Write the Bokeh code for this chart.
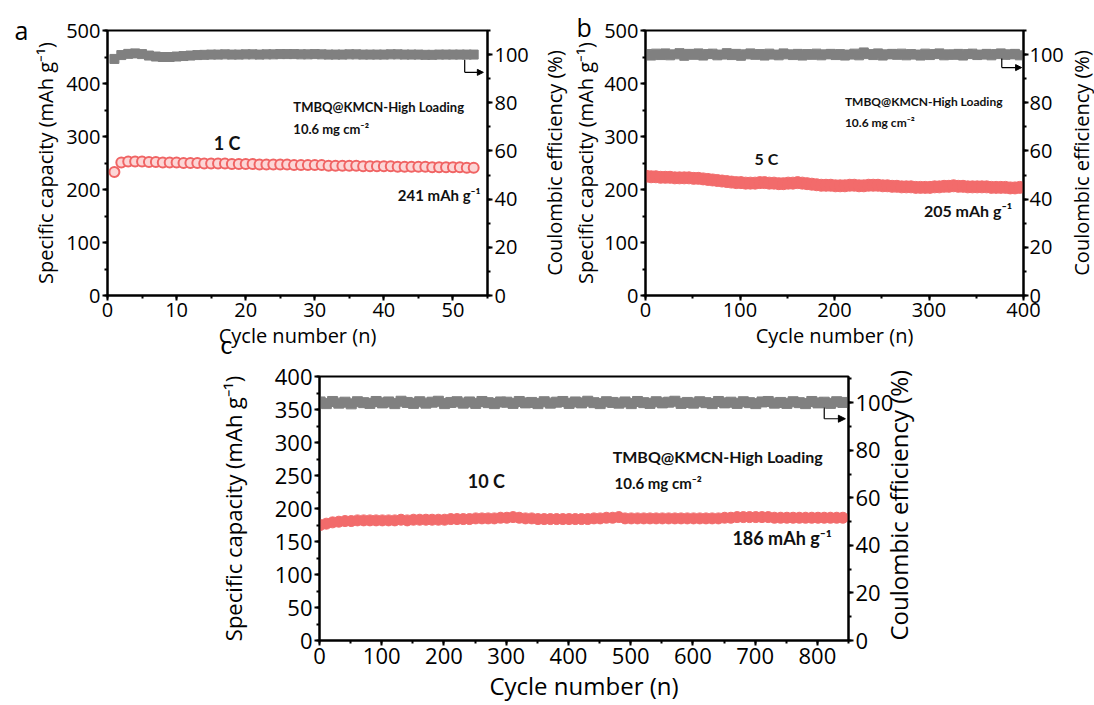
import math
from bokeh.plotting import figure
from bokeh.models import (Range1d, LinearAxis, SingleIntervalTicker, FixedTicker, Label,
                          Arrow, NormalHead, Spacer, Title)
from bokeh.layouts import row, column
from bokeh.embed import file_html
from bokeh.resources import INLINE

# ---------------- data ----------------
# panel a : 1 C
cycles_a = list(range(1, 54))
cap_a = [233, 251, 253, 253, 253, 252, 252, 251, 251, 251,
         250, 250, 250, 249, 249, 249, 249, 248, 248, 248,
         248, 247, 247, 247, 247, 247, 246, 246, 246, 246,
         246, 245, 245, 245, 245, 245, 244, 244, 244, 244,
         244, 243, 243, 243, 243, 243, 242, 242, 242, 242,
         242, 241, 241]
ce_a = [98.2, 99.8, 100.3, 100.5, 100.2, 99.6, 99.2, 99.0, 99.0, 99.2,
        99.4, 99.6, 99.8, 99.9, 100.0, 100.0, 100.1, 100.0, 100.0, 100.1,
        100.1, 100.0, 100.1, 100.1, 100.2, 100.2, 100.2, 100.1, 100.1, 100.2,
        100.1, 100.0, 100.0, 100.0, 100.1, 100.1, 100.0, 100.0, 100.0, 100.0,
        100.1, 100.1, 100.0, 100.0, 100.0, 99.9, 99.9, 100.0, 100.0, 100.0,
        100.0, 100.0, 100.0]

# panel b : 5 C (every 5th cycle)
cycles_b = list(range(1, 401, 5))
cap_b = [225, 224, 224, 223, 223, 223, 222, 222, 222, 222, 221,
         221, 220, 219, 218, 217, 216, 215, 214, 213, 213,
         212, 212, 212, 213, 213, 212, 212, 211, 211, 212,
         212, 213, 212, 211, 210, 209, 208, 208, 208, 207,
         207, 207, 208, 208, 207, 207, 208, 208, 208, 207,
         207, 206, 206, 205, 205, 205, 204, 204, 204, 204,
         205, 205, 206, 206, 207, 206, 206, 205, 205, 205,
         205, 205, 204, 204, 204, 204, 203, 203, 204]
ce_b = [100.2, 99.6, 100.4, 99.8, 100.5, 99.7, 100.1, 100.6, 99.5, 100.3,
        99.9, 100.5, 99.6, 100.2, 100.4, 99.7, 100.0, 100.6, 99.8, 100.3,
        99.5, 100.1, 100.5, 99.9, 100.2, 99.6, 100.4, 100.0, 99.7, 100.5,
        100.1, 99.8, 100.3, 99.6, 100.2, 99.9, 100.4, 99.7, 100.1, 100.3,
        99.8, 100.2, 99.6, 100.0, 100.4, 99.7, 100.9, 100.2, 99.8, 100.5,
        99.6, 100.1, 100.3, 99.9, 100.4, 99.7, 100.2, 100.0, 99.6, 100.4,
        99.8, 100.2, 100.5, 99.7, 100.1, 99.9, 100.3, 99.6, 100.2, 100.4,
        99.8, 100.0, 100.3, 99.7, 100.2, 100.5, 99.9, 100.1, 100.3, 99.7]

# panel c : 10 C (every 10th cycle)
cycles_c = list(range(1, 851, 10))
cap_c = [175, 177, 179, 180, 181, 181, 182, 182, 182, 182,
         182, 182, 182, 183, 182, 183, 183, 183, 183, 183,
         183, 184, 184, 184, 184, 185, 185, 185, 185, 186,
         186, 187, 186, 185, 185, 184, 184, 184, 184, 184,
         184, 184, 184, 184, 185, 185, 186, 186, 187, 185,
         185, 185, 185, 185, 185, 185, 185, 185, 185, 185,
         185, 185, 185, 185, 185, 186, 186, 187, 187, 187,
         187, 187, 187, 186, 186, 186, 186, 186, 186, 186,
         186, 186, 186, 186, 186]
ce_c = [100.3, 99.6, 100.5, 99.8, 100.2, 99.5, 100.4, 100.0, 99.7, 100.5,
        99.9, 100.3, 99.6, 100.6, 100.1, 99.7, 100.4, 99.8, 100.2, 100.6,
        99.6, 100.1, 100.4, 99.8, 100.3, 99.7, 100.5, 100.0, 99.6, 100.3,
        100.2, 99.7, 100.5, 99.9, 100.1, 99.6, 100.4, 99.8, 100.2, 100.5,
        99.7, 100.3, 99.9, 100.6, 100.0, 99.6, 100.4, 100.1, 99.8, 100.3,
        99.6, 100.5, 100.0, 99.7, 100.4, 99.9, 100.2, 100.6, 99.7, 100.1,
        99.8, 100.4, 100.0, 99.6, 100.5, 99.9, 100.2, 99.7, 100.4, 100.0,
        99.6, 100.3, 100.5, 99.8, 100.1, 99.7, 100.4, 100.0, 99.6, 100.5,
        99.9, 100.2, 99.7, 100.4, 100.1]

y_title = "Specific capacity (mAh g\u207b\u00b9)"
ce_title = "Coulombic efficiency (%)"
x_title = "Cycle number (n)"
loading_name = "TMBQ@KMCN-High Loading"

FONT = "Open Sans"
BFONT = "Lato"
GREY = "#808080"
RED = "#f26b6b"
AXPROPS = LinearAxis.properties()


def style_axis(ax, interval, label_size, title_size, title_standoff=4, label_standoff=2):
    ax.ticker = SingleIntervalTicker(interval=interval, num_minor_ticks=2)
    ax.axis_line_width = 2
    ax.axis_line_color = "black"
    ax.major_tick_line_width = 2
    ax.minor_tick_line_width = 2
    ax.major_tick_line_color = "black"
    ax.minor_tick_line_color = "black"
    ax.major_tick_out = 5
    ax.major_tick_in = 0
    ax.minor_tick_out = 3
    ax.minor_tick_in = 0
    ax.major_label_text_font = FONT
    ax.major_label_text_font_size = f"{label_size}px"
    ax.major_label_text_color = "black"
    ax.major_label_standoff = label_standoff
    ax.axis_label_text_font = FONT
    ax.axis_label_text_font_size = f"{title_size}px"
    ax.axis_label_text_font_style = "normal"
    ax.axis_label_text_color = "black"
    ax.axis_label_standoff = title_standoff


def letter_title(text, offset, standoff, valign, font=FONT):
    return Title(text=text, align="left", offset=offset, standoff=standoff,
                 vertical_align=valign, text_font=font, text_font_size="25px",
                 text_font_style="normal", text_color="black")


def make_panel(width, height, borders, xmax, ymax, ce_max, xint, yint,
               tick_size, title_size, ytitle_size, left_standoff,
               right_title=False, right_standoff=2, right_label_standoff=2):
    bl, br, bt, bb = borders
    p = figure(width=width, height=height, output_backend="svg", toolbar_location=None,
               x_range=Range1d(0, xmax), y_range=Range1d(0, ymax),
               min_border_left=bl, min_border_right=br, min_border_top=bt,
               min_border_bottom=bb, background_fill_color="white",
               border_fill_color=None)
    p.extra_y_ranges = {"ce": Range1d(0, ce_max)}
    p.grid.visible = False
    p.outline_line_color = "black"
    p.outline_line_width = 2
    p.outline_line_alpha = 1
    style_axis(p.xaxis[0], xint, tick_size, title_size, 2)
    style_axis(p.yaxis[0], yint, tick_size, ytitle_size, left_standoff)
    p.xaxis[0].axis_label = x_title
    p.yaxis[0].axis_label = y_title
    rax = LinearAxis(y_range_name="ce")
    style_axis(rax, 20, tick_size, title_size, right_standoff, right_label_standoff)
    if right_title:
        rax.axis_label = ce_title
        if "axis_label_orientation" in AXPROPS:
            rax.axis_label_orientation = math.pi / 2
        if "axis_label_align" in AXPROPS:
            rax.axis_label_align = "start"
    p.add_layout(rax, "right")
    return p


def ce_title_strip(width, height, top, bottom, size):
    """Narrow strip carrying a bottom-to-top 'Coulombic efficiency' title."""
    s = figure(width=width, height=height, output_backend="svg", toolbar_location=None,
               x_axis_type=None, y_axis_type=None, x_range=Range1d(0, 1),
               y_range=Range1d(0, 1), min_border_left=width - 1, min_border_right=0,
               min_border_top=top, min_border_bottom=bottom,
               background_fill_color=None, border_fill_color=None)
    s.outline_line_color = None
    s.grid.visible = False
    ax = LinearAxis(axis_label=ce_title, ticker=FixedTicker(ticks=[]),
                    axis_line_color=None, major_tick_line_color=None,
                    minor_tick_line_color=None, major_tick_out=0, minor_tick_out=0,
                    major_label_standoff=0, axis_label_standoff=0,
                    axis_label_text_font=FONT, axis_label_text_font_size=f"{size}px",
                    axis_label_text_font_style="normal", axis_label_text_color="black")
    s.add_layout(ax, "left")
    return s


def add_text(p, x, y, text, size, align="left"):
    p.add_layout(Label(x=x, y=y, text=text, text_font=BFONT,
                       text_font_size=f"{size}px", text_font_style="bold",
                       text_align=align, text_baseline="middle", text_color="#111111"))


def add_pointer(p, x0, y0, y1, x1, head):
    p.add_layout(Arrow(end=None, x_start=x0, y_start=y0, x_end=x0, y_end=y1,
                       line_width=1.2, line_color="black"))
    p.add_layout(Arrow(end=NormalHead(size=head, fill_color="black", line_color="black"),
                       x_start=x0, y_start=y1, x_end=x1, y_end=y1,
                       line_width=1.2, line_color="black"))


ROW1 = 361

# ---------------- panel a ----------------
pa = make_panel(531, ROW1, (107, 42, 30, ROW1 - 295), 55, 500, 110, 10, 100, 20, 20, 20,
                4)
pa.title = letter_title("a", -93, -33, "bottom")
pa.add_layout(letter_title("c", 113, -45, "top", font=BFONT), "below")
pa.scatter(cycles_a, ce_a, y_range_name="ce", marker="square", size=9,
           fill_color=GREY, line_color=GREY)
pa.scatter(cycles_a, cap_a, marker="circle", size=10, fill_color="#fcd6d6",
           line_color="#f06464", line_width=2)
add_text(pa, 26.9, 355, loading_name, 13)
add_text(pa, 26.9, 315, "10.6 mg cm\u207b\u00b2", 13)
add_text(pa, 17.3, 287, "1 C", 18, align="center")
add_text(pa, 54.0, 189, "241 mAh g\u207b\u00b9", 15, align="right")
add_pointer(pa, 51.7, 445, 421, 54.4, 6)
sa = ce_title_strip(37, ROW1, 30, ROW1 - 295, 20)

# ---------------- panel b ----------------
pb = make_panel(498, ROW1, (77, 40, 29, ROW1 - 295), 400, 500, 110, 100, 100, 20, 20, 20,
                2, right_label_standoff=1)
pb.title = letter_title("b", -69, -27, "bottom")
pb.scatter(cycles_b, ce_b, y_range_name="ce", marker="square", size=9,
           fill_color=GREY, line_color=GREY)
pb.scatter(cycles_b, cap_b, marker="circle", size=12, fill_color=RED, line_color=RED)
add_text(pb, 211, 366, loading_name, 12)
add_text(pb, 211, 327, "10.6  mg cm\u207b\u00b2", 12)
add_text(pb, 128, 258, "5 C", 16, align="center")
add_text(pb, 388, 160, "205 mAh g\u207b\u00b9", 16, align="right")
add_pointer(pb, 377, 447, 430, 398, 6)
sb = ce_title_strip(28, ROW1, 29, ROW1 - 295, 20)

# ---------------- panel c ----------------
pc = make_panel(744, 705 - ROW1, (102, 110, 376 - ROW1, 65), 850, 400, 111, 100, 50,
                22, 24, 22, 24, right_title=True, right_standoff=2)
pc.scatter(cycles_c, ce_c, y_range_name="ce", marker="square", size=10,
           fill_color=GREY, line_color=GREY)
pc.scatter(cycles_c, cap_c, marker="circle", size=11, fill_color=RED, line_color=RED)
add_text(pc, 471, 279, loading_name, 16)
add_text(pc, 474, 238, "10.6 mg cm\u207b\u00b2", 15)
add_text(pc, 268, 241, "10 C", 18, align="center")
add_text(pc, 823, 155, "186 mAh g\u207b\u00b9", 18, align="right")
add_pointer(pc, 811, 353, 336, 845, 7)

layout = column(row(pa, sa, pb, sb), row(Spacer(width=214, height=705 - ROW1), pc))

open("out.html", "w").write(file_html(layout, INLINE))
